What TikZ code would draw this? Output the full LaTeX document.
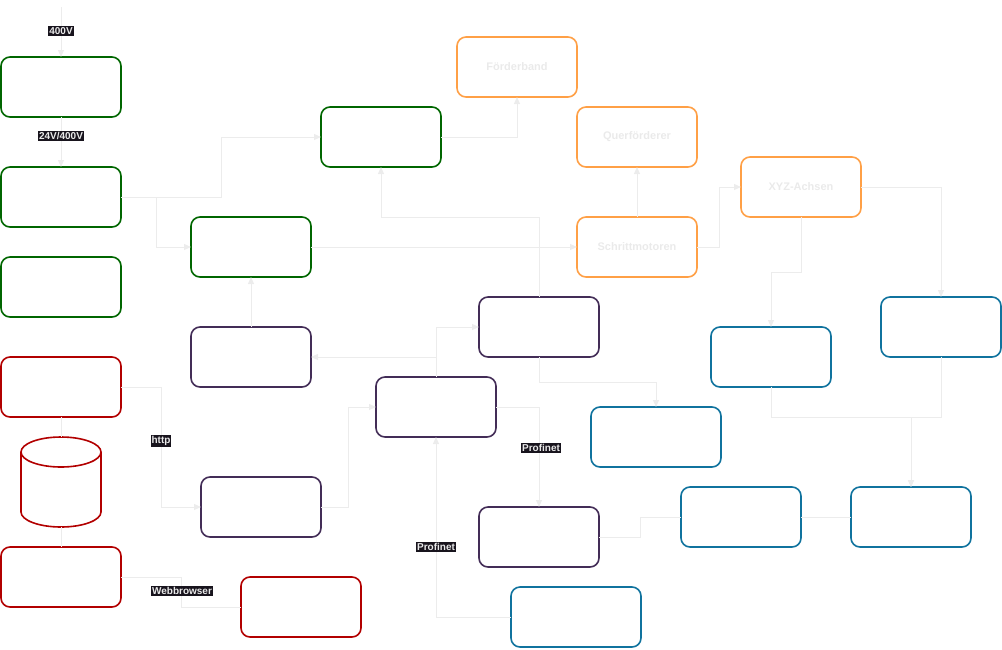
\documentclass[tikz,border=0pt]{standalone}
\usepackage{fontspec}
\setmainfont{Liberation Sans}
\usetikzlibrary{arrows.meta}
\definecolor{cgreen}{RGB}{0,102,0}
\definecolor{cred}{RGB}{178,0,0}
\definecolor{cpurple}{RGB}{67,45,87}
\definecolor{corange}{RGB}{255,160,70}
\definecolor{cblue}{RGB}{16,115,158}
\definecolor{cline}{RGB}{236,236,236}
\definecolor{clabelbg}{RGB}{24,20,29}
\definecolor{ctext}{RGB}{234,234,234}
\begin{document}
\begin{tikzpicture}[x=1pt,y=-1pt,
  box/.style={draw, rounded corners=9pt, line width=1.6pt, minimum width=120pt,
    minimum height=60pt, outer sep=0pt, inner sep=0pt,
    font=\fontsize{11}{13}\selectfont\bfseries, text=ctext},
  wide/.style={minimum width=130pt},
  gbox/.style={box, draw=cgreen},
  rbox/.style={box, draw=cred},
  pbox/.style={box, draw=cpurple},
  obox/.style={box, draw=corange},
  bbox/.style={box, draw=cblue},
  conn/.style={draw=cline, line width=1pt},
  arr/.style={conn, -{Triangle[length=7pt,width=6pt]}},
  lbl/.style={fill=clabelbg, text=ctext, inner sep=1pt,
    font=\fontsize{10}{11}\selectfont\bfseries}]
\useasboundingbox (0,0) rectangle (1002,649);

% power supply chain (green)
\node[gbox] (G1) at (61,87) {};
\node[gbox] (G2) at (61,197) {};
\node[gbox] (G3) at (61,287) {};
\node[gbox] (G4) at (251,247) {};
\node[gbox] (G5) at (381,137) {};

% web / database (red)
\node[rbox] (R1) at (61,387) {};
\node[minimum width=80pt, minimum height=90pt, outer sep=0pt, inner sep=0pt] (db) at (61,482) {};
\node[rbox] (R2) at (61,577) {};
\node[rbox] (R3) at (301,607) {};

% controllers (purple)
\node[pbox] (Phttp) at (261,507) {};
\node[pbox] (Pleft) at (251,357) {};
\node[pbox] (Ptop) at (539,327) {};
\node[pbox] (Pcen) at (436,407) {};
\node[pbox] (Pbot) at (539,537) {};

% actuators (orange)
\node[obox] (Ford) at (517,67) {Förderband};
\node[obox] (Quer) at (637,137) {Querförderer};
\node[obox] (Schritt) at (637,247) {Schrittmotoren};
\node[obox] (XYZ) at (801,187) {XYZ-Achsen};

% field devices (blue)
\node[bbox] (B1) at (941,327) {};
\node[bbox] (B2) at (771,357) {};
\node[bbox, wide] (B3) at (656,437) {};
\node[bbox, wide] (B4) at (576,617) {};
\node[bbox] (B5) at (741,517) {};
\node[bbox] (B6) at (911,517) {};

% database cylinder
\draw[cred, line width=1.6pt] (61,452) ellipse [x radius=40pt, y radius=15pt];
\draw[cred, line width=1.6pt] (21,452) -- (21,512)
  arc[start angle=180, end angle=360, x radius=40pt, y radius=15pt] -- (101,452);

% connectors
\coordinate (feed) at (61,7);
\draw[arr] (feed) -- (G1.north);
\draw[arr] (G1.south) -- (G2.north);
\draw[arr] (G2.east) -- (221,197) |- (G5.west);
\draw[arr] (G2.east) -- (156,197) |- (G4.west);
\draw[arr] (G4.east) -- (Schritt.west);
\draw[arr] (G5.east) -| (Ford.south);
\draw[arr] (Schritt.north) -- (Quer.south);
\draw[arr] (Schritt.east) -- (719,247) |- (XYZ.west);
\draw[arr] (XYZ.south) -- (801,272) -| (B2.north);
\draw[arr] (XYZ.east) -| (B1.north);
\draw[arr] (Pleft.north) -- (G4.south);
\draw[arr] (Ptop.north) -- (539,217) -| (G5.south);
\draw[arr] (Pcen.north) |- (Ptop.west);
\draw[arr] (Pcen.north) |- (Pleft.east);
\draw[arr] (Phttp.east) -- (348,507) |- (Pcen.west);
\draw[arr] (R1.east) -- (161,387) |- (Phttp.west);
\draw[conn] (R1.south) -- (db.north);
\draw[conn] (db.south) -- (R2.north);
\draw[conn] (R2.east) -- (181,577) |- (R3.west);
\draw[arr] (Pcen.east) -| (Pbot.north);
\draw[arr] (B4.west) -| (Pcen.south);
\draw[arr] (Ptop.south) -- (539,382) -| (B3.north);
\draw[conn] (Pbot.east) -- (640,537) |- (B5.west);
\draw[conn] (B5.east) -- (B6.west);
\draw[arr] (B2.south) -- (771,417) -| (B6.north);
\draw[arr] (B1.south) -- (941,417) -| (B6.north);

% connector labels
\node[lbl] (l400) at (61,31) {400V};
\node[lbl] (l24) at (61,136) {24V/400V};
\node[lbl] (lhttp) at (161,441) {http};
\node[lbl] (lweb) at (182,591) {Webbrowser};
\node[lbl] (lpn1) at (541,448) {Profinet};
\node[lbl] (lpn2) at (436,547) {Profinet};
\end{tikzpicture}
\end{document}
